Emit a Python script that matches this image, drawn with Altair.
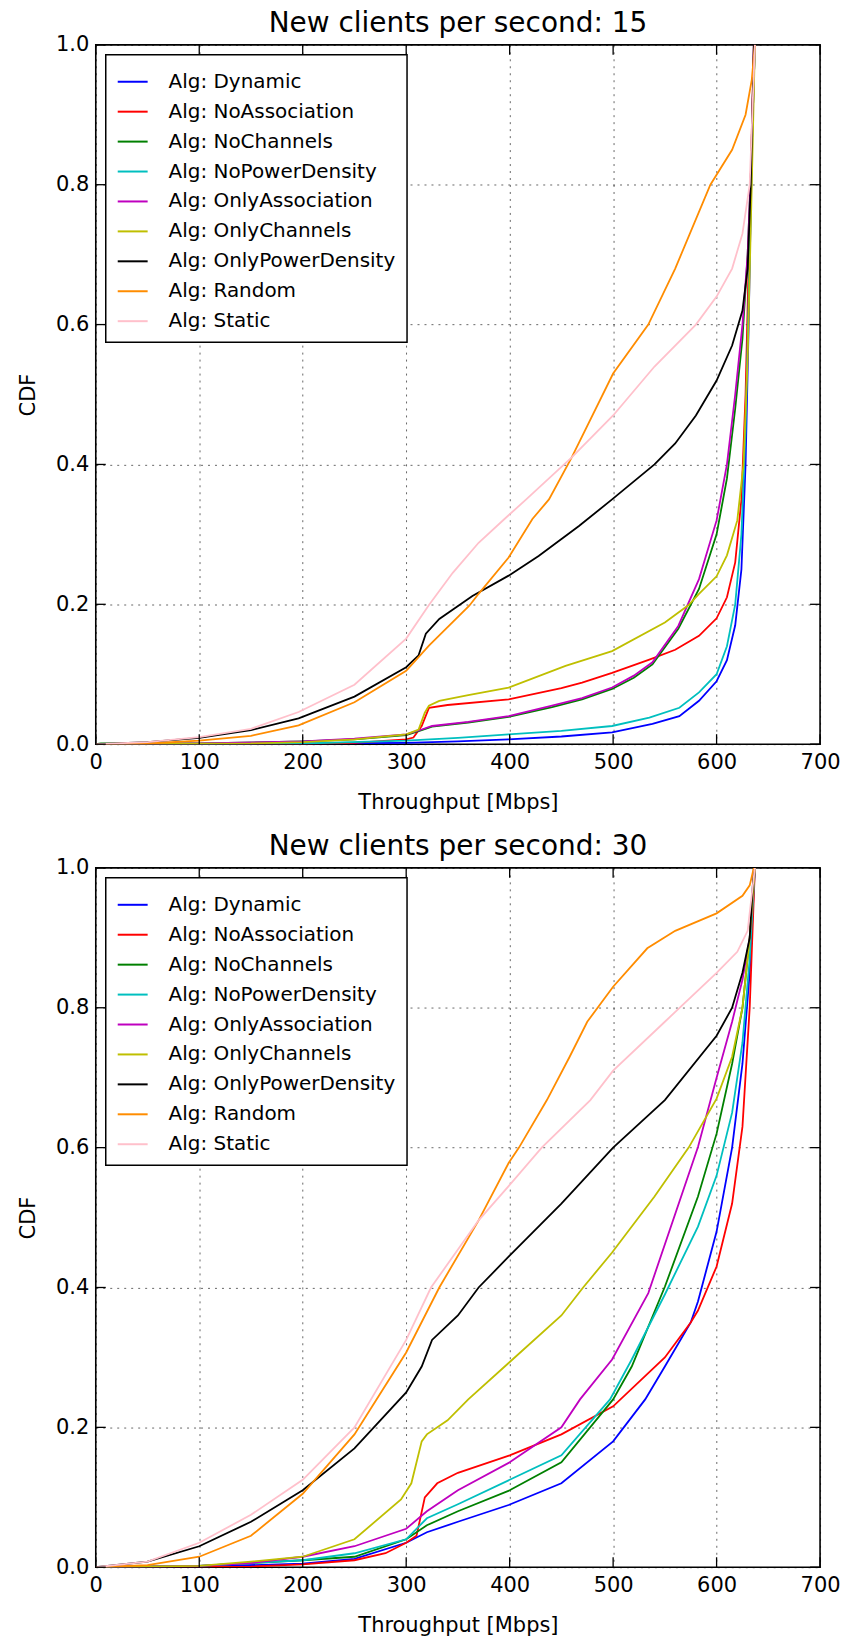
import altair as alt
import pandas as pd

ALGS = ["Dynamic", "NoAssociation", "NoChannels", "NoPowerDensity", "OnlyAssociation",
        "OnlyChannels", "OnlyPowerDensity", "Random", "Static"]
COLORS = ["#0000ff", "#ff0000", "#008000", "#00bfbf", "#bf00bf",
          "#bfbf00", "#000000", "#ff8c00", "#ffc0cb"]
X_TICKS = [0, 100, 200, 300, 400, 500, 600, 700]
Y_TICKS = [0.0, 0.2, 0.4, 0.6, 0.8, 1.0]
TITLES = ["New clients per second: 15", "New clients per second: 30"]

# ---------------- panel 1: 15 new clients per second ----------------
c15_dynamic_x = [0, 100, 200, 300, 350, 399, 450, 499, 538, 564, 583, 600, 610, 618, 624, 628, 631, 634, 636]
c15_dynamic_y = [0, 0, 0.001, 0.002, 0.004, 0.007, 0.011, 0.017, 0.029, 0.04, 0.062, 0.09, 0.12, 0.17, 0.25, 0.4, 0.6, 0.85, 1.0]
c15_noassoc_x = [0, 200, 250, 300, 307, 315, 322, 340, 399, 450, 470, 499, 535, 560, 583, 600, 610, 618, 624, 628, 632, 636]
c15_noassoc_y = [0, 0, 0.002, 0.007, 0.0095, 0.026, 0.052, 0.056, 0.064, 0.08, 0.088, 0.102, 0.121, 0.135, 0.155, 0.18, 0.21, 0.26, 0.35, 0.5, 0.75, 1.0]
c15_nochan_x = [0, 5, 100, 200, 250, 300, 315, 325, 360, 399, 441, 470, 499, 520, 538, 563, 583, 600, 610, 618, 625, 630, 634, 637]
c15_nochan_y = [0, 0.001, 0.001, 0.004, 0.007, 0.013, 0.02, 0.025, 0.031, 0.039, 0.053, 0.064, 0.079, 0.095, 0.114, 0.165, 0.222, 0.3, 0.38, 0.48, 0.58, 0.7, 0.85, 1.0]
c15_nopower_x = [0, 100, 200, 300, 350, 399, 450, 499, 535, 564, 583, 600, 610, 618, 624, 628, 632, 635, 637]
c15_nopower_y = [0, 0, 0.001, 0.005, 0.009, 0.014, 0.019, 0.026, 0.038, 0.052, 0.074, 0.1, 0.14, 0.2, 0.3, 0.45, 0.7, 0.9, 1.0]
c15_onlyassoc_x = [0, 100, 200, 250, 300, 315, 325, 360, 399, 441, 470, 499, 520, 538, 563, 583, 600, 610, 618, 625, 630, 634, 637]
c15_onlyassoc_y = [0, 0.001, 0.004, 0.008, 0.014, 0.021, 0.026, 0.032, 0.04, 0.055, 0.066, 0.081, 0.098, 0.117, 0.169, 0.236, 0.32, 0.4, 0.5, 0.6, 0.7, 0.85, 1.0]
c15_onlychan_x = [0, 150, 200, 250, 300, 312, 318, 322, 332, 360, 399, 454, 499, 550, 573, 583, 600, 610, 620, 626, 630, 634, 637]
c15_onlychan_y = [0, 0.001, 0.003, 0.007, 0.014, 0.021, 0.045, 0.055, 0.062, 0.07, 0.081, 0.112, 0.133, 0.174, 0.199, 0.215, 0.24, 0.27, 0.32, 0.4, 0.55, 0.8, 1.0]
c15_onlypower_x = [0, 50, 100, 150, 196, 250, 300, 312, 319, 332, 364, 399, 428, 467, 499, 540, 560, 580, 600, 615, 625, 630, 633, 636]
c15_onlypower_y = [0, 0.003, 0.009, 0.02, 0.037, 0.068, 0.11, 0.127, 0.158, 0.179, 0.212, 0.241, 0.269, 0.312, 0.35, 0.4, 0.43, 0.47, 0.52, 0.57, 0.62, 0.68, 0.8, 1.0]
c15_random_x = [0, 50, 100, 150, 196, 250, 300, 322, 361, 370, 399, 422, 438, 460, 500, 534, 560, 594, 615, 628, 634, 637]
c15_random_y = [0, 0.001, 0.005, 0.012, 0.027, 0.06, 0.105, 0.141, 0.198, 0.215, 0.267, 0.322, 0.35, 0.41, 0.53, 0.6, 0.68, 0.8, 0.85, 0.9, 0.95, 1.0]
c15_static_x = [0, 50, 100, 150, 196, 250, 300, 322, 345, 370, 395, 416, 460, 500, 540, 580, 600, 615, 625, 632, 637]
c15_static_y = [0, 0.003, 0.01, 0.022, 0.046, 0.085, 0.151, 0.199, 0.245, 0.288, 0.322, 0.35, 0.41, 0.47, 0.54, 0.6, 0.64, 0.68, 0.73, 0.8, 1.0]

# ---------------- panel 2: 30 new clients per second ----------------
c30_dynamic_x = [0, 100, 200, 250, 300, 320, 350, 399, 450, 500, 531, 550, 575, 582, 600, 615, 625, 632, 637]
c30_dynamic_y = [0, 0.001, 0.005, 0.012, 0.035, 0.05, 0.065, 0.089, 0.12, 0.18, 0.24, 0.287, 0.35, 0.38, 0.48, 0.6, 0.72, 0.85, 1.0]
c30_noassoc_x = [0, 150, 200, 250, 280, 300, 310, 318, 330, 350, 400, 450, 500, 550, 575, 582, 600, 615, 625, 632, 637]
c30_noassoc_y = [0, 0.001, 0.004, 0.01, 0.02, 0.035, 0.045, 0.1, 0.12, 0.135, 0.16, 0.19, 0.23, 0.3, 0.35, 0.367, 0.43, 0.52, 0.63, 0.8, 1.0]
c30_nochan_x = [0, 100, 200, 250, 300, 320, 350, 400, 450, 500, 518, 550, 582, 600, 615, 625, 632, 637]
c30_nochan_y = [0, 0.002, 0.01, 0.015, 0.04, 0.06, 0.08, 0.11, 0.15, 0.24, 0.287, 0.401, 0.53, 0.62, 0.72, 0.8, 0.9, 1.0]
c30_nopower_x = [0, 100, 200, 250, 300, 320, 350, 400, 450, 497, 518, 550, 582, 600, 615, 625, 632, 637]
c30_nopower_y = [0, 0.002, 0.01, 0.02, 0.04, 0.07, 0.09, 0.125, 0.16, 0.24, 0.297, 0.39, 0.487, 0.56, 0.65, 0.75, 0.87, 1.0]
c30_onlyassoc_x = [0, 100, 150, 200, 250, 300, 320, 350, 400, 450, 468, 499, 534, 582, 600, 615, 625, 632, 637]
c30_onlyassoc_y = [0, 0.002, 0.006, 0.015, 0.03, 0.055, 0.08, 0.11, 0.15, 0.2, 0.24, 0.297, 0.392, 0.601, 0.7, 0.78, 0.84, 0.9, 1.0]
c30_onlychan_x = [0, 100, 150, 200, 250, 295, 305, 315, 320, 340, 360, 399, 450, 471, 499, 540, 573, 600, 615, 625, 632, 637]
c30_onlychan_y = [0, 0.002, 0.008, 0.015, 0.04, 0.097, 0.12, 0.18, 0.19, 0.21, 0.24, 0.292, 0.36, 0.4, 0.45, 0.53, 0.6, 0.67, 0.73, 0.8, 0.9, 1.0]
c30_onlypower_x = [0, 50, 100, 150, 200, 250, 300, 315, 325, 350, 370, 399, 450, 500, 550, 600, 615, 625, 632, 636]
c30_onlypower_y = [0, 0.008, 0.03, 0.065, 0.11, 0.17, 0.25, 0.287, 0.325, 0.36, 0.4, 0.444, 0.52, 0.6, 0.668, 0.76, 0.8, 0.85, 0.9, 1.0]
c30_random_x = [0, 50, 100, 150, 200, 250, 300, 332, 370, 399, 409, 436, 458, 475, 500, 533, 560, 600, 625, 632, 636]
c30_random_y = [0, 0.003, 0.015, 0.045, 0.105, 0.19, 0.307, 0.4, 0.496, 0.578, 0.6, 0.668, 0.73, 0.78, 0.83, 0.885, 0.91, 0.935, 0.96, 0.975, 1.0]
c30_static_x = [0, 50, 100, 150, 200, 250, 300, 324, 370, 399, 431, 478, 500, 550, 600, 620, 630, 637]
c30_static_y = [0, 0.008, 0.035, 0.075, 0.125, 0.2, 0.325, 0.4, 0.496, 0.545, 0.6, 0.668, 0.71, 0.78, 0.85, 0.88, 0.91, 1.0]

P15 = [(c15_dynamic_x, c15_dynamic_y), (c15_noassoc_x, c15_noassoc_y), (c15_nochan_x, c15_nochan_y),
       (c15_nopower_x, c15_nopower_y), (c15_onlyassoc_x, c15_onlyassoc_y), (c15_onlychan_x, c15_onlychan_y),
       (c15_onlypower_x, c15_onlypower_y), (c15_random_x, c15_random_y), (c15_static_x, c15_static_y)]
P30 = [(c30_dynamic_x, c30_dynamic_y), (c30_noassoc_x, c30_noassoc_y), (c30_nochan_x, c30_nochan_y),
       (c30_nopower_x, c30_nopower_y), (c30_onlyassoc_x, c30_onlyassoc_y), (c30_onlychan_x, c30_onlychan_y),
       (c30_onlypower_x, c30_onlypower_y), (c30_random_x, c30_random_y), (c30_static_x, c30_static_y)]

W, H = 726, 701
FONT = "DejaVu Sans"


def make_df(series):
    rows = []
    for k, (alg, (xs, ys)) in enumerate(zip(ALGS, series)):
        for i, (x, y) in enumerate(zip(xs, ys)):
            rows.append({"alg": alg, "k": k, "i": i, "x": x, "y": y})
    return pd.DataFrame(rows)


def panel(series, title):
    df = make_df(series)
    xs = alt.X("x:Q", scale=alt.Scale(domain=[0, 700], nice=False, zero=False),
               axis=alt.Axis(values=X_TICKS, title="Throughput [Mbps]", format="d", labelFlush=False))
    ys = alt.Y("y:Q", scale=alt.Scale(domain=[0, 1], nice=False),
               axis=alt.Axis(values=Y_TICKS, title="CDF", format=".1f", labelFlush=False))
    lines = alt.Chart(df).mark_line(strokeWidth=1.8, clip=True).encode(
        x=xs, y=ys,
        order="i:Q",
        color=alt.Color("alg:N", scale=alt.Scale(domain=ALGS, range=COLORS),
                        legend=alt.Legend(orient="top-left", offset=10, title=None,
                                          fillColor="white", strokeColor="black",
                                          padding=11, symbolType="stroke", symbolSize=900,
                                          symbolStrokeWidth=2, labelFontSize=20, labelFont=FONT,
                                          labelColor="black", labelLimit=400, rowPadding=4,
                                          labelOffset=20, labelExpr="'Alg: ' + datum.label")),
    )
    xt = pd.DataFrame({"x": X_TICKS})
    yt = pd.DataFrame({"y": Y_TICKS})
    tx = alt.X("x:Q", title="Throughput [Mbps]")
    ty = alt.Y("y:Q", title="CDF")
    tick_top = alt.Chart(xt).mark_rule(color="black", strokeWidth=1.3).encode(x=tx, y=alt.value(0), y2=alt.value(10))
    tick_bot = alt.Chart(xt).mark_rule(color="black", strokeWidth=1.3).encode(x=tx, y=alt.value(H - 10), y2=alt.value(H))
    tick_left = alt.Chart(yt).mark_rule(color="black", strokeWidth=1.3).encode(y=ty, x=alt.value(0), x2=alt.value(10))
    tick_right = alt.Chart(yt).mark_rule(color="black", strokeWidth=1.3).encode(y=ty, x=alt.value(W - 10), x2=alt.value(W))
    return alt.layer(lines, tick_top, tick_bot, tick_left, tick_right).properties(
        width=W, height=H, title=alt.Title(title, frame="group"))


chart = alt.vconcat(panel(P15, TITLES[0]), panel(P30, TITLES[1]), spacing=19).resolve_scale(
    color="independent").resolve_legend(color="independent").configure(
    padding={"left": 16, "top": 7, "right": 5, "bottom": 0}, background="white", font=FONT
).configure_view(stroke="black", strokeWidth=1.6).configure_axis(
    domain=False, ticks=False, grid=True, gridColor="black", gridOpacity=0.75, gridDash=[2, 5],
    gridWidth=0.8, labelFont=FONT, labelFontSize=21, labelColor="black", titleFont=FONT,
    titleFontSize=21, titleFontWeight="normal", titleColor="black", labelPadding=7
).configure_axisX(titlePadding=19).configure_axisY(titlePadding=17).configure_title(
    font=FONT, fontSize=28, fontWeight="normal", color="black", offset=-4, anchor="middle"
).configure_legend(strokeWidth=1.5)

chart.save("out.html", embed_options={"renderer": "svg", "actions": False})
